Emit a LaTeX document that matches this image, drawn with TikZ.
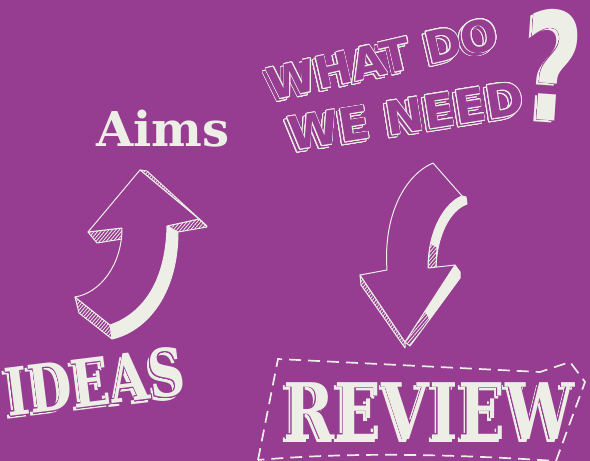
\documentclass[tikz,border=0pt]{standalone}
\usepackage{fontspec}
\setmainfont{DejaVu Serif}
\newfontfamily\blockfont{DejaVu Sans}
\usepackage{contour}
\usetikzlibrary{patterns.meta}
\definecolor{bgpurple}{RGB}{150,60,145}
\definecolor{chalk}{RGB}{237,239,230}
\contournumber{20}
\contourlength{0.8pt}
\tikzset{
    sketch/.style={draw=chalk,line width=1pt,line join=round},
    solidface/.style={sketch,fill=chalk},
    hatchface/.style={sketch,preaction={fill=bgpurple},
        pattern={Lines[angle=50,distance=2.6pt,line width=0.8pt]},pattern color=chalk},
    frontface/.style={sketch,fill=bgpurple},
    chalktext/.style={inner sep=0pt,text=chalk},
    hollowtext/.style={inner sep=0pt,text=bgpurple,font=\blockfont\bfseries\fontsize{44}{44}\selectfont},
}

\begin{document}
\begin{tikzpicture}[x=1pt,y=-1pt]
    \fill[bgpurple] (0,0) rectangle (590,461);
    \useasboundingbox (0,0) rectangle (590,461);

    %% Aims
    \node[chalktext,anchor=base,font=\bfseries\fontsize{48}{48}\selectfont] (aims) at (163,146) {Aims};

    %% What do we need ?
    \node[hollowtext,rotate=13] (whatback) at (380,62) {\contour{chalk}{WHAT DO}};
    \node[hollowtext,rotate=13] (what) at (383,59) {\contour{chalk}{WHAT DO}};
    \node[hollowtext,rotate=9,font=\blockfont\bfseries\fontsize{46}{46}\selectfont] (needback) at (403,119) {\contour{chalk}{WE NEED}};
    \node[hollowtext,rotate=9,font=\blockfont\bfseries\fontsize{46}{46}\selectfont] (need) at (406,116) {\contour{chalk}{WE NEED}};
    \node[chalktext,rotate=-4,xscale=0.68,font=\blockfont\bfseries\fontsize{150}{150}\selectfont] (qback) at (550,67) {?};
    \node[chalktext,rotate=-4,xscale=0.68,font=\blockfont\bfseries\fontsize{150}{150}\selectfont] (qmark) at (553,65) {\contour{bgpurple}{?}};

    %% Up arrow
    \draw[solidface] (110,325) .. controls (140,315) and (166,285) .. (167,226) -- (178,232)
        .. controls (178,290) and (150,330) .. (112,339) -- cycle;
    \draw[hatchface] (167,226) -- (199,219) -- (207,227) -- (178,232) -- cycle;
    \draw[hatchface] (140,170) -- (147,171) -- (207,226) -- (199,219) -- cycle;
    \draw[hatchface] (88,232) -- (122,228) -- (122,239) -- (97,243) -- cycle;
    \draw[hatchface] (75,297) -- (110,325) -- (112,339) -- (79,313) -- cycle;
    \draw[frontface] (140,170) -- (88,232) -- (122,228) .. controls (122,265) and (100,293) .. (75,297)
        -- (110,325) .. controls (140,315) and (166,285) .. (167,226) -- (199,219) -- cycle;

    %% Down arrow
    \draw[solidface] (462,196) -- (466,197) -- (467,204) .. controls (450,210) and (437,235) .. (436,267)
        -- (428,268) .. controls (428,230) and (445,203) .. (462,196) -- cycle;
    \draw[hatchface] (430,243) -- (437,247) -- (436,267) -- (428,268) -- cycle;
    \draw[solidface] (455,265) -- (460,272) -- (460,278) -- (430,319) -- (425,311) -- cycle;
    \draw[hatchface] (425,311) -- (430,319) -- (410,346) -- (405,342) -- cycle;
    \draw[hatchface] (360,275) -- (405,342) -- (405,348) -- (361,285) -- cycle;
    \draw[frontface] (433,163) -- (462,196) .. controls (445,203) and (428,230) .. (428,268)
        -- (455,265) -- (405,342) -- (360,275) -- (387,270) .. controls (383,215) and (405,175) .. cycle;

    %% Ideas
    \node[chalktext,rotate=7,xscale=0.76,font=\bfseries\fontsize{66}{66}\selectfont] (ideasback) at (92,385) {IDEAS};
    \node[chalktext,rotate=7,xscale=0.76,font=\bfseries\fontsize{66}{66}\selectfont] (ideas) at (95,382) {\contour{bgpurple}{IDEAS}};

    %% Review banner
    \draw[chalk,line width=1.7pt,dash pattern=on 12pt off 7pt] (258,460) -- (278,359) -- (540,372)
        -- (570,362) -- (585,382) -- (556,461) .. controls (450,454) and (350,452) .. cycle;
    \node[chalktext,xscale=0.79,font=\bfseries\fontsize{78}{78}\selectfont] (reviewback) at (426,414) {REVIEW};
    \node[chalktext,xscale=0.79,font=\bfseries\fontsize{78}{78}\selectfont] (review) at (429,411) {\contour{bgpurple}{REVIEW}};
\end{tikzpicture}
\end{document}
